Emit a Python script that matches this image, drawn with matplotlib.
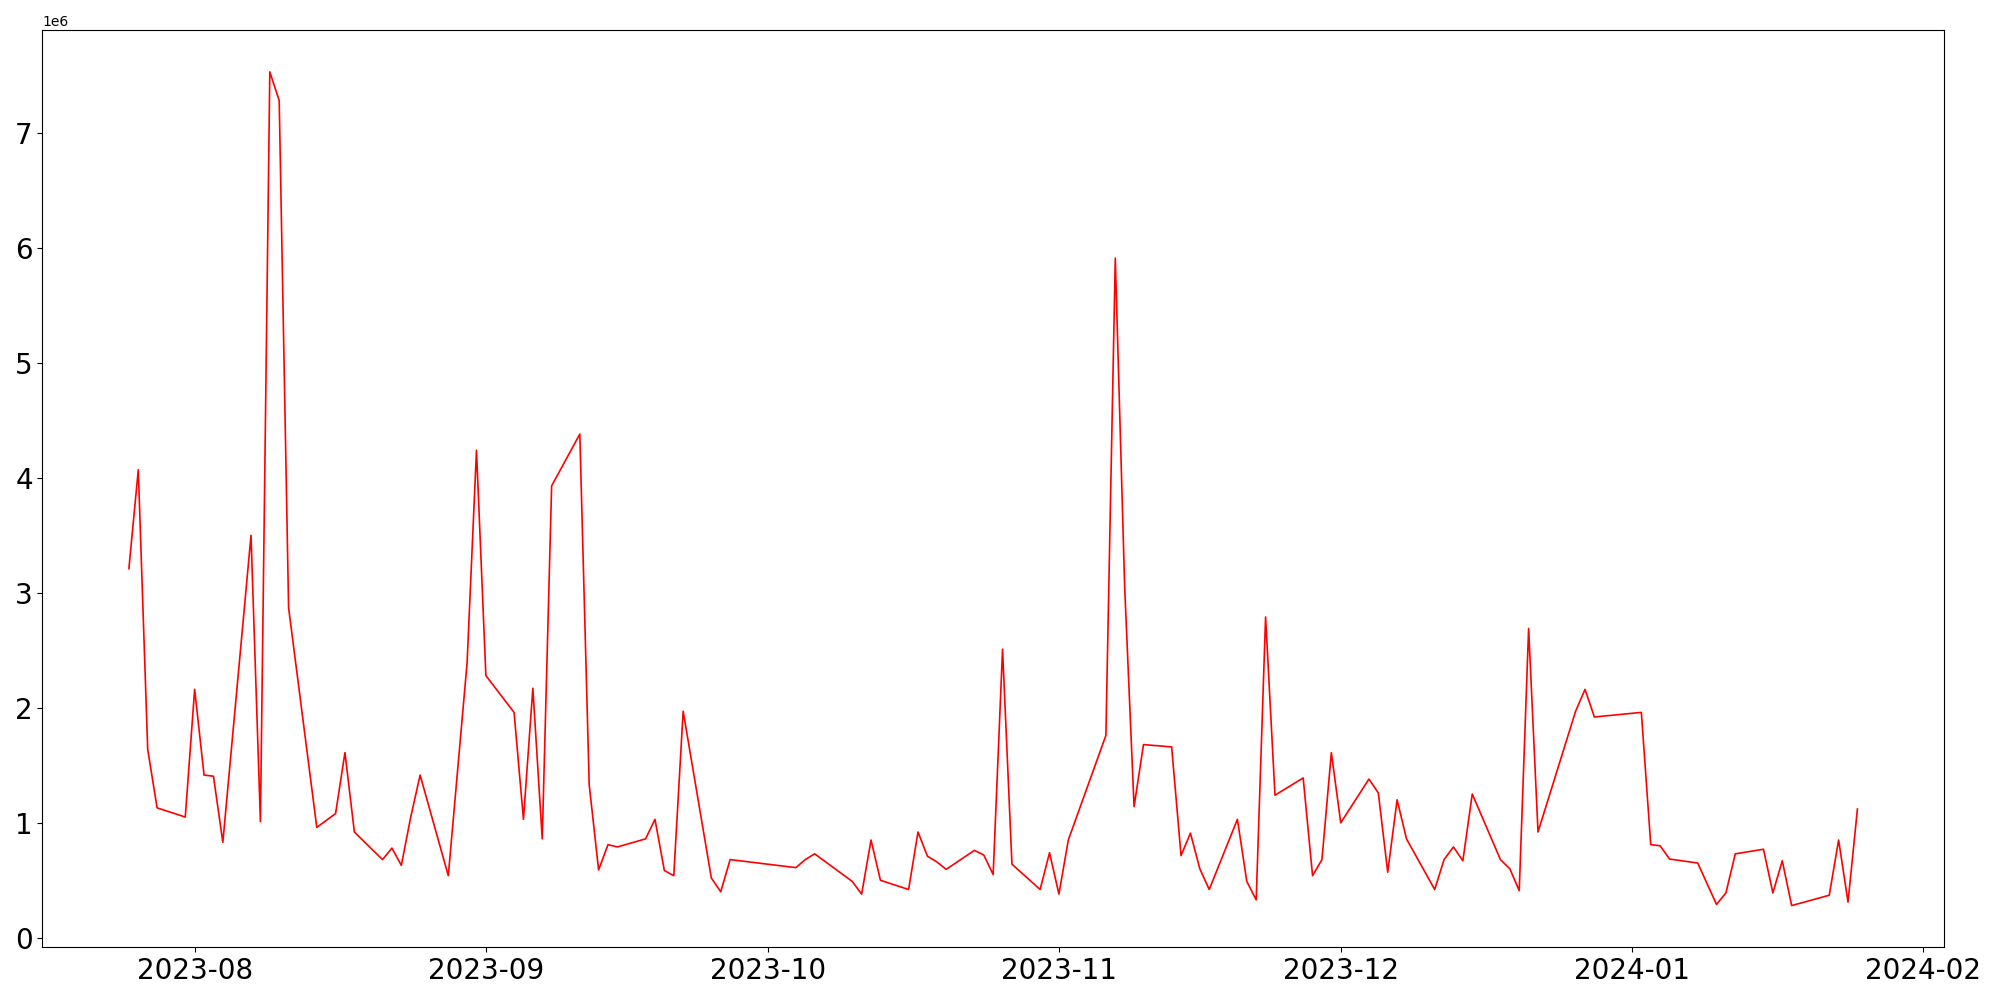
import matplotlib
matplotlib.use("Agg")
import matplotlib.pyplot as plt
import pandas as pd

dates = [
    "2023-07-25", "2023-07-26", "2023-07-27", "2023-07-28", "2023-07-31",
    "2023-08-01", "2023-08-02", "2023-08-03", "2023-08-04", "2023-08-07",
    "2023-08-08", "2023-08-09", "2023-08-10", "2023-08-11", "2023-08-14",
    "2023-08-16", "2023-08-17", "2023-08-18", "2023-08-21", "2023-08-22",
    "2023-08-23", "2023-08-24", "2023-08-25", "2023-08-28", "2023-08-30",
    "2023-08-31", "2023-09-01", "2023-09-04", "2023-09-05", "2023-09-06",
    "2023-09-07", "2023-09-08", "2023-09-11", "2023-09-12", "2023-09-13",
    "2023-09-14", "2023-09-15", "2023-09-18", "2023-09-19", "2023-09-20",
    "2023-09-21", "2023-09-22", "2023-09-25", "2023-09-26", "2023-09-27",
    "2023-10-04", "2023-10-05", "2023-10-06", "2023-10-10", "2023-10-11",
    "2023-10-12", "2023-10-13", "2023-10-16", "2023-10-17", "2023-10-18",
    "2023-10-19", "2023-10-20", "2023-10-23", "2023-10-24", "2023-10-25",
    "2023-10-26", "2023-10-27", "2023-10-30", "2023-10-31", "2023-11-01",
    "2023-11-02", "2023-11-06", "2023-11-07", "2023-11-08", "2023-11-09",
    "2023-11-10", "2023-11-13", "2023-11-14", "2023-11-15", "2023-11-16",
    "2023-11-17", "2023-11-20", "2023-11-21", "2023-11-22", "2023-11-23",
    "2023-11-24", "2023-11-27", "2023-11-28", "2023-11-29", "2023-11-30",
    "2023-12-01", "2023-12-04", "2023-12-05", "2023-12-06", "2023-12-07",
    "2023-12-08", "2023-12-11", "2023-12-12", "2023-12-13", "2023-12-14",
    "2023-12-15", "2023-12-18", "2023-12-19", "2023-12-20", "2023-12-21",
    "2023-12-22", "2023-12-26", "2023-12-27", "2023-12-28", "2024-01-02",
    "2024-01-03", "2024-01-04", "2024-01-05", "2024-01-08", "2024-01-10",
    "2024-01-11", "2024-01-12", "2024-01-15", "2024-01-16", "2024-01-17",
    "2024-01-18", "2024-01-22", "2024-01-23", "2024-01-24", "2024-01-25",
]

volume = [
    3.21, 4.07, 1.64, 1.13, 1.05,
    2.16, 1.415, 1.405, 0.83, 3.50,
    1.01, 7.53, 7.28, 2.87, 0.96,
    1.08, 1.61, 0.92, 0.68, 0.78,
    0.63, 1.05, 1.415, 0.54, 2.39,
    4.24, 2.28, 1.96, 1.03, 2.17,
    0.86, 3.93, 4.38, 1.33, 0.59,
    0.81, 0.79, 0.86, 1.03, 0.585,
    0.54, 1.97, 0.52, 0.40, 0.68,
    0.61, 0.68, 0.73, 0.49, 0.38,
    0.85, 0.50, 0.42, 0.92, 0.71,
    0.66, 0.595, 0.76, 0.72, 0.55,
    2.51, 0.64, 0.42, 0.74, 0.38,
    0.85, 1.76, 5.91, 3.05, 1.14,
    1.68, 1.66, 0.715, 0.91, 0.60,
    0.42, 1.03, 0.49, 0.33, 2.79,
    1.24, 1.39, 0.54, 0.68, 1.61,
    1.00, 1.38, 1.26, 0.57, 1.20,
    0.86, 0.42, 0.68, 0.79, 0.67,
    1.25, 0.68, 0.60, 0.41, 2.69,
    0.92, 1.97, 2.16, 1.92, 1.96,
    0.81, 0.80, 0.685, 0.65, 0.29,
    0.39, 0.73, 0.77, 0.39, 0.67,
    0.28, 0.37, 0.85, 0.31, 1.12,
]

x = pd.to_datetime(dates)
y = [v * 1e6 for v in volume]

plt.figure(figsize=(20, 10))
plt.plot(x, y, color="red", linewidth=1.2)
plt.xticks(fontsize=20)
plt.yticks(fontsize=20)
plt.tight_layout()
plt.savefig("out.png", dpi=100)
